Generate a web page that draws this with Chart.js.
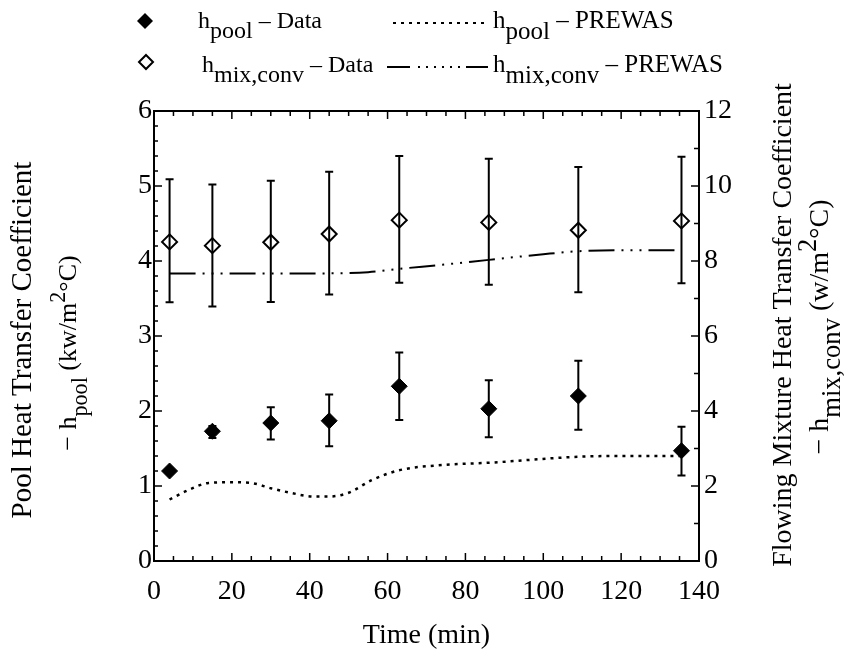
<!DOCTYPE html>
<html>
<head>
<meta charset="utf-8">
<script src="https://cdn.jsdelivr.net/npm/chart.js@4.4.1/dist/chart.umd.min.js"></script>
<style>
  html, body { margin: 0; padding: 0; background: #fff; }
  canvas { display: block; }
</style>
</head>
<body>
<canvas id="chart" width="845" height="664"></canvas>
<script>
// measured points (time in min)
const times = [4, 15, 30, 45, 63, 86, 109, 135.5];
const hPool = [1.20, 1.73, 1.84, 1.87, 2.33, 2.03, 2.20, 1.47];
const hPoolLo = [1.17, 1.64, 1.62, 1.53, 1.88, 1.65, 1.75, 1.14];
const hPoolHi = [1.23, 1.80, 2.05, 2.22, 2.78, 2.41, 2.67, 1.79];
const hMix = [8.51, 8.41, 8.50, 8.72, 9.09, 9.03, 8.82, 9.07];
const hMixLo = [6.90, 6.79, 6.91, 7.11, 7.42, 7.37, 7.17, 7.41];
const hMixHi = [10.18, 10.04, 10.14, 10.38, 10.80, 10.73, 10.51, 10.78];

// PREWAS predictions
const poolCalcTime = [4, 9, 14, 20, 25, 30, 35, 41, 45, 50, 56, 63, 74, 86, 109, 120, 135.5];
const poolCalc = [0.82, 0.95, 1.04, 1.05, 1.04, 0.97, 0.91, 0.86, 0.86, 0.91, 1.08, 1.21, 1.28, 1.31, 1.39, 1.40, 1.40];
const mixCalcTime = [4, 15, 30, 45, 55, 63, 74, 86, 100, 109, 120, 135.5];
const mixCalc = [7.67, 7.67, 7.67, 7.67, 7.70, 7.79, 7.90, 8.03, 8.18, 8.26, 8.29, 8.29];

const xTicks = [0, 20, 40, 60, 80, 100, 120, 140];

const FONT = "'Liberation Serif', 'Times New Roman', serif";

function pts(xs, ys) {
    return xs.map((x, i) => ({x: x, y: ys[i]}));
}

// text with sub/superscripts, drawn left to right from (x, y)
function partFont(p, size, subScale) {
    return ((p.sub || p.sup) ? size * subScale : size) + 'px ' + FONT;
}
function richWidth(ctx, parts, size, subScale) {
    let w = 0;
    parts.forEach(p => {
        ctx.font = partFont(p, size, subScale);
        w += ctx.measureText(p.t).width;
    });
    return w;
}
function drawRich(ctx, parts, x, y, size, subScale) {
    let cx = x;
    parts.forEach(p => {
        ctx.font = partFont(p, size, subScale);
        let dy = p.sub ? size * 0.42 : (p.sup ? -size * 0.42 : 0);
        ctx.fillText(p.t, cx, y + dy);
        cx += ctx.measureText(p.t).width;
    });
}
function drawRichVertical(ctx, parts, xBase, yCenter, size, subScale) {
    ctx.save();
    ctx.translate(xBase, yCenter);
    ctx.rotate(-Math.PI / 2);
    let w = richWidth(ctx, parts, size, subScale);
    drawRich(ctx, parts, -w / 2, 0, size, subScale);
    ctx.restore();
}
function diamond(ctx, x, y, r, filled) {
    ctx.beginPath();
    ctx.moveTo(x, y - r);
    ctx.lineTo(x + r, y);
    ctx.lineTo(x, y + r);
    ctx.lineTo(x - r, y);
    ctx.closePath();
    if (filled) ctx.fill(); else ctx.stroke();
}

const mixDash = [26, 7, 2, 7, 2, 7, 2, 7];
const poolDash = [3, 5];

const errorBars = {
    id: 'errorBars',
    afterDatasetsDraw(chart) {
        const {ctx, scales: {x, y, y2}} = chart;
        ctx.save();
        ctx.strokeStyle = '#000';
        ctx.lineWidth = 2;
        const bar = (t, lo, hi, sc) => {
            let px = x.getPixelForValue(t);
            let p1 = sc.getPixelForValue(lo), p2 = sc.getPixelForValue(hi);
            ctx.beginPath();
            ctx.moveTo(px, p1); ctx.lineTo(px, p2);
            ctx.moveTo(px - 4, p1); ctx.lineTo(px + 4, p1);
            ctx.moveTo(px - 4, p2); ctx.lineTo(px + 4, p2);
            ctx.stroke();
        };
        times.forEach((t, i) => {
            bar(t, hPoolLo[i], hPoolHi[i], y);
            bar(t, hMixLo[i], hMixHi[i], y2);
        });
        ctx.restore();
    }
};

const frameAndText = {
    id: 'frameAndText',
    afterDraw(chart) {
        const {ctx, chartArea: {left, right, top, bottom}, scales: {x, y, y2}} = chart;
        ctx.save();
        ctx.strokeStyle = '#000';
        ctx.fillStyle = '#000';
        ctx.lineWidth = 2;
        ctx.strokeRect(left, top, right - left, bottom - top);

        // inward tick marks
        ctx.lineWidth = 1.5;
        ctx.beginPath();
        for (let t = 0; t <= 140; t += 5) {
            let px = x.getPixelForValue(t);
            let len = t % 20 === 0 ? 8 : 5;
            ctx.moveTo(px, bottom); ctx.lineTo(px, bottom - len);
            ctx.moveTo(px, top); ctx.lineTo(px, top + len);
        }
        for (let k = 0; k <= 30; k++) {
            let py = y.getPixelForValue(k * 0.2);
            let len = k % 5 === 0 ? 8 : 4;
            ctx.moveTo(left, py); ctx.lineTo(left + len, py);
        }
        for (let k = 0; k <= 12; k++) {
            let py = y2.getPixelForValue(k);
            let len = k % 2 === 0 ? 8 : 5;
            ctx.moveTo(right, py); ctx.lineTo(right - len, py);
        }
        ctx.stroke();

        ctx.textBaseline = 'alphabetic';
        ctx.textAlign = 'left';

        // legend
        diamond(ctx, 145, 21, 8, true);
        ctx.lineWidth = 2;
        diamond(ctx, 146, 62, 7, false);
        drawRich(ctx, [{t: 'h'}, {t: 'pool', sub: true}, {t: ' \u2013 Data'}], 198, 28, 24, 1);
        drawRich(ctx, [{t: 'h'}, {t: 'mix,conv', sub: true}, {t: ' \u2013 Data'}], 202, 72, 24, 1);
        ctx.lineWidth = 2;
        ctx.setLineDash(poolDash);
        ctx.beginPath(); ctx.moveTo(393, 23); ctx.lineTo(488, 23); ctx.stroke();
        ctx.setLineDash([23, 8, 2, 6, 2, 6, 2, 6, 2, 6, 2, 6, 2, 6]);
        ctx.beginPath(); ctx.moveTo(387, 67); ctx.lineTo(488, 67); ctx.stroke();
        ctx.setLineDash([]);
        drawRich(ctx, [{t: 'h'}, {t: 'pool', sub: true}, {t: ' \u2013 PREWAS'}], 493, 28, 25, 1);
        drawRich(ctx, [{t: 'h'}, {t: 'mix,conv', sub: true}, {t: ' \u2013 PREWAS'}], 493, 72, 25, 1);

        // axis titles
        ctx.font = '28px ' + FONT;
        ctx.textAlign = 'center';
        ctx.fillText('Time (min)', (left + right) / 2, 643);
        ctx.textAlign = 'left';
        drawRichVertical(ctx, [{t: 'Pool Heat Transfer Coefficient'}], 31, 340, 29, 1);
        drawRichVertical(ctx, [{t: '\u2212 h'}, {t: 'pool', sub: true}, {t: ' (kw/m'}, {t: '2', sup: true}, {t: '\u00b0C)'}], 76, 353, 26, 0.85);
        drawRichVertical(ctx, [{t: 'Flowing Mixture Heat Transfer Coefficient'}], 791, 325, 28, 1);
        drawRichVertical(ctx, [{t: '\u2212 h'}, {t: 'mix,conv', sub: true}, {t: ' (w/m'}, {t: '2', sup: true}, {t: '\u00b0C)'}], 828, 327, 28, 0.95);
        ctx.restore();
    }
};

const tickFont = {family: FONT, size: 28};

const ctx = document.getElementById('chart').getContext('2d');
const myChart = new Chart(ctx, {
    type: 'scatter',
    data: {
        datasets: [
            {
                label: 'hpool - Data',
                data: pts(times, hPool),
                yAxisID: 'y',
                pointStyle: 'rectRot',
                pointRadius: 8,
                backgroundColor: '#000',
                borderColor: '#000',
                borderWidth: 1
            },
            {
                label: 'hmix,conv - Data',
                data: pts(times, hMix),
                yAxisID: 'y2',
                pointStyle: 'rectRot',
                pointRadius: 7.5,
                backgroundColor: 'rgba(0,0,0,0)',
                borderColor: '#000',
                borderWidth: 2
            },
            {
                label: 'hpool - PREWAS',
                data: pts(poolCalcTime, poolCalc),
                yAxisID: 'y',
                showLine: true,
                pointRadius: 0,
                borderColor: '#000',
                borderWidth: 2.5,
                borderDash: poolDash,
                cubicInterpolationMode: 'monotone'
            },
            {
                label: 'hmix,conv - PREWAS',
                data: pts(mixCalcTime, mixCalc),
                yAxisID: 'y2',
                showLine: true,
                pointRadius: 0,
                borderColor: '#000',
                borderWidth: 2,
                borderDash: mixDash,
                cubicInterpolationMode: 'monotone'
            }
        ]
    },
    options: {
        responsive: false,
        animation: false,
        layout: {padding: {top: 111, left: 0, right: 0, bottom: 0}},
        plugins: {
            legend: {display: false},
            tooltip: {enabled: false}
        },
        scales: {
            x: {
                type: 'linear',
                min: 0,
                max: 140,
                afterBuildTicks: s => { s.ticks = xTicks.map(v => ({value: v})); },
                ticks: {font: tickFont, color: '#000', padding: 14},
                grid: {display: false, drawTicks: false},
                border: {display: false},
                afterFit: s => { s.height = 103; }
            },
            y: {
                position: 'left',
                min: 0,
                max: 6,
                ticks: {stepSize: 1, font: tickFont, color: '#000', padding: 2},
                grid: {display: false, drawTicks: false},
                border: {display: false},
                afterFit: s => { s.width = 154; }
            },
            y2: {
                position: 'right',
                min: 0,
                max: 12,
                ticks: {stepSize: 2, font: tickFont, color: '#000', padding: 5},
                grid: {display: false, drawTicks: false},
                border: {display: false},
                afterFit: s => { s.width = 146; }
            }
        }
    },
    plugins: [errorBars, frameAndText]
});
</script>
</body>
</html>
